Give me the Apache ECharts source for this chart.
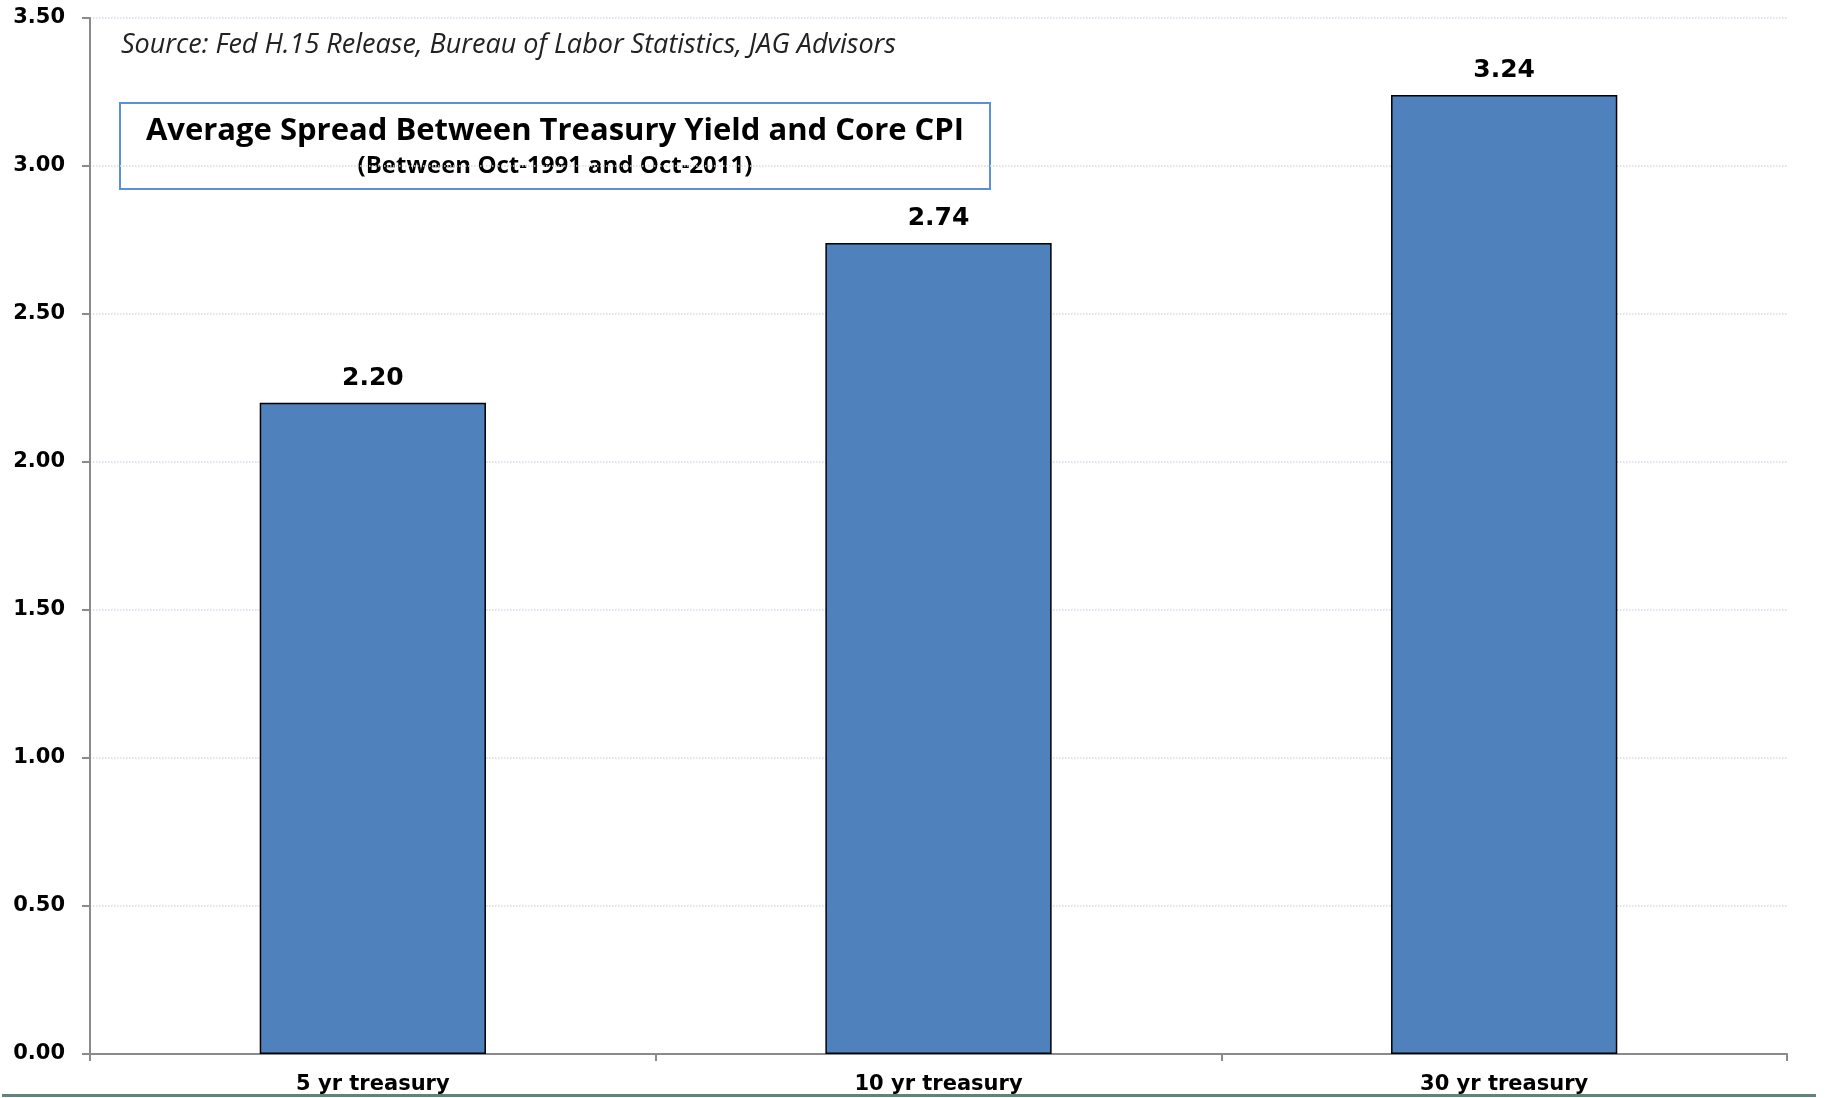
<!DOCTYPE html>
<html>
<head>
<meta charset="utf-8">
<title>Average Spread Between Treasury Yield and Core CPI</title>
<script src="https://cdn.jsdelivr.net/npm/echarts@6/dist/echarts.min.js"></script>
<style>
  html, body { margin: 0; padding: 0; background: #ffffff; }
  #chart { width: 1825px; height: 1098px; }
</style>
</head>
<body>
<div id="chart"></div>
<script>
// Treasury maturities and their average spread over core CPI (percentage points)
const categories = ['5 yr treasury', '10 yr treasury', '30 yr treasury'];
const spreadValues = [2.20, 2.74, 3.24];
const yTickLabels = ['0.00', '0.50', '1.00', '1.50', '2.00', '2.50', '3.00', '3.50'];

const titleText = 'Average Spread Between Treasury Yield and Core CPI';
const subtitleText = '(Between Oct-1991 and Oct-2011)';
const sourceText = 'Source: Fed H.15 Release, Bureau of Labor Statistics, JAG Advisors';

const axisFont = 'DejaVu Sans';
const chart = echarts.init(document.getElementById('chart'));

chart.setOption({
  animation: false,
  backgroundColor: '#ffffff',
  grid: { left: 90, right: 38, top: 18, bottom: 44, containLabel: false },
  xAxis: {
    type: 'category',
    data: categories,
    axisLine: { lineStyle: { color: '#8a8a8a', width: 2 } },
    axisTick: { show: true, alignWithLabel: false, length: 7, lineStyle: { color: '#8a8a8a', width: 2 } },
    axisLabel: {
      margin: 20,
      color: '#000000',
      fontFamily: axisFont,
      fontWeight: 'bold',
      fontSize: 21
    },
    splitLine: { show: false }
  },
  yAxis: {
    type: 'value',
    min: 0,
    max: 3.5,
    interval: 0.5,
    axisLine: { show: true, lineStyle: { color: '#8a8a8a', width: 2 } },
    axisTick: { show: true, length: 8, lineStyle: { color: '#8a8a8a', width: 2 } },
    axisLabel: {
      margin: 25,
      color: '#000000',
      fontFamily: axisFont,
      fontWeight: 'bold',
      fontSize: 21,
      formatter: function (v) {
        const i = Math.round(v / 0.5);
        return yTickLabels[i] !== undefined ? yTickLabels[i] : v.toFixed(2);
      }
    },
    splitLine: { show: true, lineStyle: { color: '#d3dbe6', type: 'dotted', width: 1.5 } }
  },
  series: [{
    type: 'bar',
    data: spreadValues,
    barWidth: '40%',
    itemStyle: { color: '#4f81bd', borderColor: '#000000', borderWidth: 1.5 },
    label: {
      show: true,
      position: 'top',
      distance: 12,
      color: '#000000',
      fontFamily: axisFont,
      fontWeight: 'bold',
      fontSize: 25,
      formatter: function (p) { return p.value.toFixed(2); }
    }
  }],
  graphic: [
    {
      type: 'text',
      x: 121,
      y: 45,
      style: {
        text: sourceText,
        fill: '#222222',
        font: 'italic 27px "Open Sans"',
        textVerticalAlign: 'middle'
      }
    },
    {
      type: 'rect',
      shape: { x: 120, y: 103, width: 870, height: 86 },
      style: { fill: '#ffffff', stroke: '#5b8fd6', lineWidth: 2 }
    },
    {
      type: 'text',
      x: 555,
      y: 131,
      style: {
        text: titleText,
        fill: '#000000',
        font: 'bold 31px "Open Sans"',
        textAlign: 'center',
        textVerticalAlign: 'middle'
      }
    },
    {
      type: 'text',
      x: 555,
      y: 166,
      style: {
        text: subtitleText,
        fill: '#000000',
        font: 'bold 24px "Open Sans"',
        textAlign: 'center',
        textVerticalAlign: 'middle'
      }
    },
    {
      type: 'rect',
      shape: { x: 2, y: 1094, width: 1814, height: 3 },
      style: { fill: '#5e8575' }
    }
  ]
});
</script>
</body>
</html>
